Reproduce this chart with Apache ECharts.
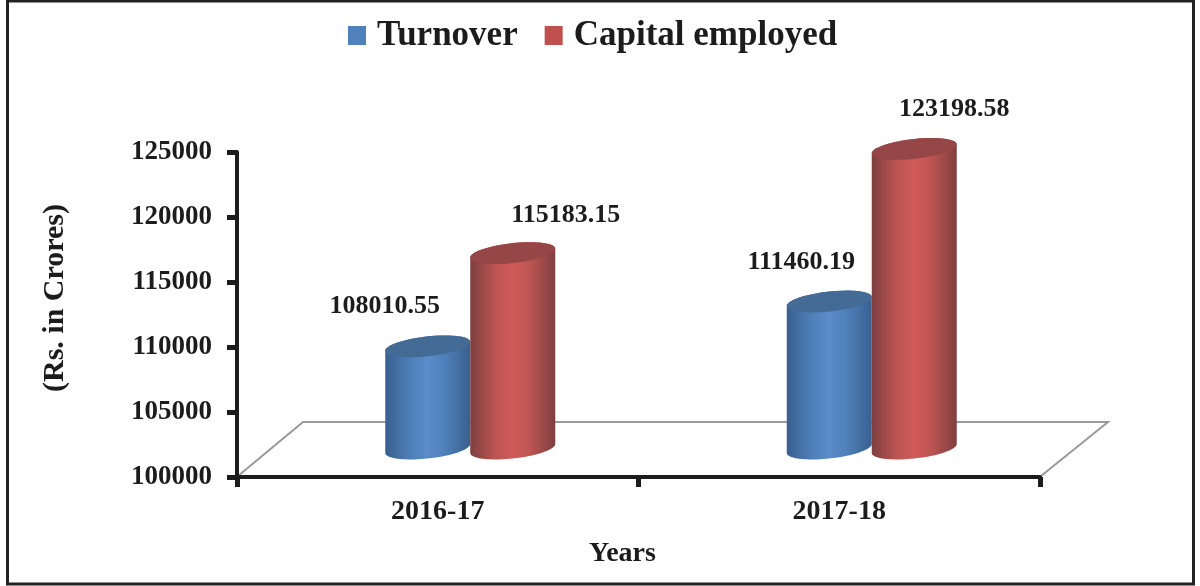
<!DOCTYPE html>
<html>
<head>
<meta charset="utf-8">
<style>
html, body { margin: 0; padding: 0; background: #fff; }
#main { width: 1200px; height: 586px; }
</style>
<script src="https://cdn.jsdelivr.net/npm/echarts@6/dist/echarts.min.js"></script>
</head>
<body>
<div id="main"></div>
<script>
var categories = ['2016-17', '2017-18'];
var turnover = [108010.55, 111460.19];
var capitalEmployed = [115183.15, 123198.58];
var valueLabels = ['108010.55', '111460.19', '115183.15', '123198.58'];

var serif = '"Liberation Serif", serif';
var ink = '#1c1c1c';
// the 3d floor is pushed back by this much, bars sit half way in
var depthX = 65, depthY = 55;
var barW = 85;

// hand placed labels, same as the picture [series][category] -> dx, dy from top centre
var labelOffset = [
	[[-43, -40], [-28, -39]],
	[[53, -38], [40, -40]]
];

function tiltedEllipse(cx, cy, a, b, from, to) {
	var pts = [];
	for (var i = 0; i <= 40; i++) {
		var t = from + (to - from) * i / 40;
		pts.push([cx + a * Math.cos(t), cy + b * Math.sin(t) - 0.105 * a * Math.cos(t)]);
	}
	return pts;
}

function cylinder(seriesIdx, side, edge, mid, topColor) {
	return function (params, api) {
		var i = api.value(0);
		var base = api.coord([i, 100000]);
		var top = api.coord([i, api.value(1)]);
		var cx = base[0] + depthX / 2 + side * barW / 2;
		var by = base[1] - depthY / 2 - 1;
		var ty = top[1] - depthY / 2 + 1;
		var a = barW / 2, b = 10;
		// body: lower half of the bottom ellipse + straight sides up to the top ellipse
		var body = tiltedEllipse(cx, by, a, b, 0, Math.PI).concat(tiltedEllipse(cx, ty, a, b, Math.PI, 2 * Math.PI));
		var off = labelOffset[seriesIdx][i];
		return {
			type: 'group',
			children: [
				{
					type: 'polygon',
					shape: { points: body },
					style: {
						fill: new echarts.graphic.LinearGradient(0, 0, 1, 0, [
							{ offset: 0, color: edge },
							{ offset: 0.3, color: mid[0] },
							{ offset: 0.5, color: mid[1] },
							{ offset: 0.7, color: mid[0] },
							{ offset: 1, color: edge }
						])
					}
				},
				{
					type: 'polygon',
					shape: { points: tiltedEllipse(cx, ty, a, b, 0, 2 * Math.PI) },
					style: { fill: topColor }
				},
				{
					type: 'text',
					z2: 10,
					style: {
						x: cx + off[0],
						y: ty + off[1],
						text: valueLabels[seriesIdx * 2 + i],
						align: 'center',
						verticalAlign: 'middle',
						fill: ink,
						font: 'bold 26px ' + serif
					}
				}
			]
		};
	};
}

var chart = echarts.init(document.getElementById('main'));
chart.setOption({
	backgroundColor: '#fff',
	animation: false,
	textStyle: { fontFamily: serif },
	grid: { left: 237, right: 160, top: 152, bottom: 109 },
	legend: {
		top: 13,
		left: 343,
		icon: 'rect',
		itemWidth: 18,
		itemHeight: 19,
		itemGap: 27,
		textStyle: { fontSize: 35, fontWeight: 'bold', color: ink, fontFamily: serif, padding: [0, 0, 0, 6] },
		data: ['Turnover', 'Capital employed']
	},
	xAxis: {
		type: 'category',
		data: categories,
		name: 'Years',
		nameLocation: 'middle',
		nameGap: 63,
		nameTextStyle: { fontSize: 28, fontWeight: 'bold', color: ink, padding: [0, 32, 0, 0] },
		axisLine: { lineStyle: { color: ink, width: 4 } },
		axisTick: { show: true, length: 10, lineStyle: { color: ink, width: 5 } },
		axisLabel: { fontSize: 28, fontWeight: 'bold', color: ink, margin: 21 }
	},
	yAxis: {
		type: 'value',
		min: 100000,
		max: 125000,
		interval: 5000,
		name: '(Rs. in Crores)',
		nameLocation: 'middle',
		nameRotate: 90,
		nameGap: 167,
		nameTextStyle: { fontSize: 30, fontWeight: 'bold', color: ink, padding: [0, 0, 0, 33] },
		splitLine: { show: false },
		axisLine: { show: true, lineStyle: { color: ink, width: 4 } },
		axisTick: { show: true, length: 10, lineStyle: { color: ink, width: 5 } },
		axisLabel: {
			fontSize: 27,
			fontWeight: 'bold',
			color: ink,
			margin: 25,
			formatter: function (v) { return String(v); }
		}
	},
	graphic: [
		{
			type: 'rect',
			silent: true,
			shape: { x: 7.5, y: 1, width: 1186, height: 583 },
			style: { fill: 'none', stroke: '#222', lineWidth: 3 }
		},
		{
			// floor of the 3d box
			type: 'polyline',
			silent: true,
			z: -1,
			shape: { points: [[238, 476], [303, 422], [1108, 422], [1041, 476]] },
			style: { fill: 'none', stroke: '#9a9a9a', lineWidth: 2 }
		}
	],
	series: [
		{
			name: 'Turnover',
			type: 'custom',
			itemStyle: { color: '#4f81bd' },
			renderItem: cylinder(0, -1, '#38608f', ['#4f80ba', '#5b8bc8'], '#446b96'),
			encode: { x: 0, y: 1 },
			data: categories.map(function (c, i) { return [i, turnover[i]]; })
		},
		{
			name: 'Capital employed',
			type: 'custom',
			itemStyle: { color: '#c0504d' },
			renderItem: cylinder(1, 1, '#7e3f3f', ['#bd5553', '#d05a58'], '#964646'),
			encode: { x: 0, y: 1 },
			data: categories.map(function (c, i) { return [i, capitalEmployed[i]]; })
		}
	]
});
</script>
</body>
</html>
